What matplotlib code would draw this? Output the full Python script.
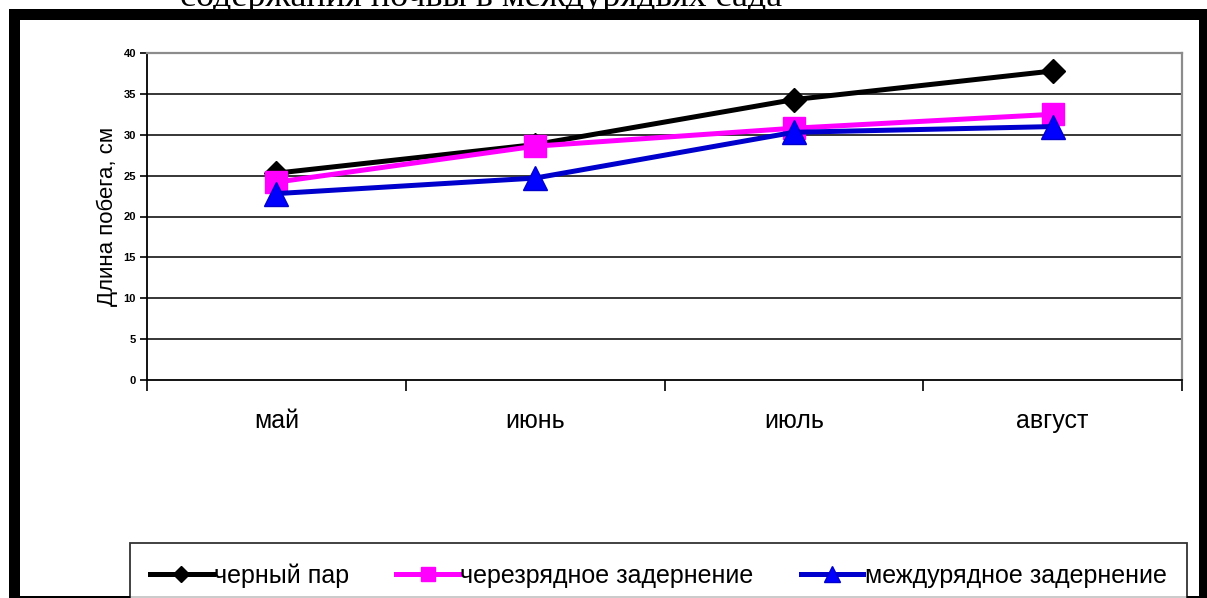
import matplotlib
matplotlib.use("Agg")
import matplotlib.pyplot as plt
from matplotlib.patches import Rectangle

plt.rcParams['font.family'] = ['Liberation Sans', 'DejaVu Sans']

months = ["май", "июнь", "июль", "август"]
series_names = ["черный пар", "черезрядное задернение", "междурядное задернение"]
black_fallow = [25.3, 28.8, 34.3, 37.8]
alternate_sod = [24.2, 28.6, 30.8, 32.5]
interrow_sod = [22.8, 24.7, 30.3, 31.0]
y_ticks = [0, 5, 10, 15, 20, 25, 30, 35, 40]
y_label = "Длина побега, см"
caption = "содержания почвы в междурядьях сада"

W, H = 1207, 598
fig = plt.figure(figsize=(W / 100, H / 100), dpi=100)
fig.patch.set_facecolor("white")

def fx(px):
    return px / W

def fy(py):
    return 1 - py / H

# caption of the page, mostly cut off by the top edge
fig.text(fx(180), fy(6), caption, family="Liberation Serif", fontsize=26,
         ha="left", va="baseline", color="black")

# black frame around the chart object
frame_kw = dict(transform=fig.transFigure, color="black", lw=0, zorder=0)
fig.patches.append(Rectangle((fx(9), fy(598)), fx(11), fy(9) - fy(598), **frame_kw))
fig.patches.append(Rectangle((fx(9), fy(20)), fx(1207 - 9), fy(9) - fy(20), **frame_kw))
fig.patches.append(Rectangle((fx(1199), fy(598)), fx(8), fy(9) - fy(598), **frame_kw))
fig.patches.append(Rectangle((fx(9), 0), fx(1207 - 9), 2 / H, **frame_kw))

ax = fig.add_axes([fx(147), fy(380), fx(1182 - 147), fy(53) - fy(380)])
x = list(range(len(months)))

ax.set_xlim(-0.5, len(months) - 0.5)
ax.set_ylim(0, 40)

for v in y_ticks[1:-1]:
    ax.axhline(v, color="black", lw=1.1, zorder=1)

ax.plot(x, black_fallow, color="black", lw=3.6, marker="D", ms=12,
        label=series_names[0], zorder=3)
ax.plot(x, alternate_sod, color="#ff00ff", lw=3.6, marker="s", ms=16,
        label=series_names[1], zorder=4)
ax.plot(x, interrow_sod, color="#0000cc", lw=3.6, marker="^", ms=17,
        markerfacecolor="#0000ff", markeredgecolor="#0000cc",
        label=series_names[2], zorder=5)

for side in ("top", "right"):
    ax.spines[side].set_color("#8c8c8c")
    ax.spines[side].set_linewidth(1.6)
for side in ("left", "bottom"):
    ax.spines[side].set_color("black")
    ax.spines[side].set_linewidth(1.3)

ax.set_yticks(y_ticks)
ax.set_yticklabels([str(v) for v in y_ticks], fontsize=8, fontweight="bold")
ax.tick_params(axis="y", direction="out", length=5, width=1.2, pad=3)

ax.set_xticks(x)
ax.set_xticklabels(months, fontsize=18)
ax.set_xticks([i - 0.5 for i in range(len(months) + 1)], minor=True)
ax.tick_params(axis="x", which="major", length=0, pad=21)
ax.tick_params(axis="x", which="minor", direction="out", length=8, width=1.2)

ax.set_ylabel(y_label, fontsize=16, labelpad=4)

leg = fig.legend(loc="upper left", bbox_to_anchor=(fx(130), fy(543)),
                 ncol=3, fontsize=18, frameon=True, fancybox=False,
                 handlelength=2.5, handletextpad=0.05, borderaxespad=0,
                 columnspacing=1.9, markerscale=0.65, borderpad=0.8)
leg.get_frame().set_edgecolor("black")
leg.get_frame().set_linewidth(1.3)

fig.savefig("out.png", dpi=100, facecolor="white")
